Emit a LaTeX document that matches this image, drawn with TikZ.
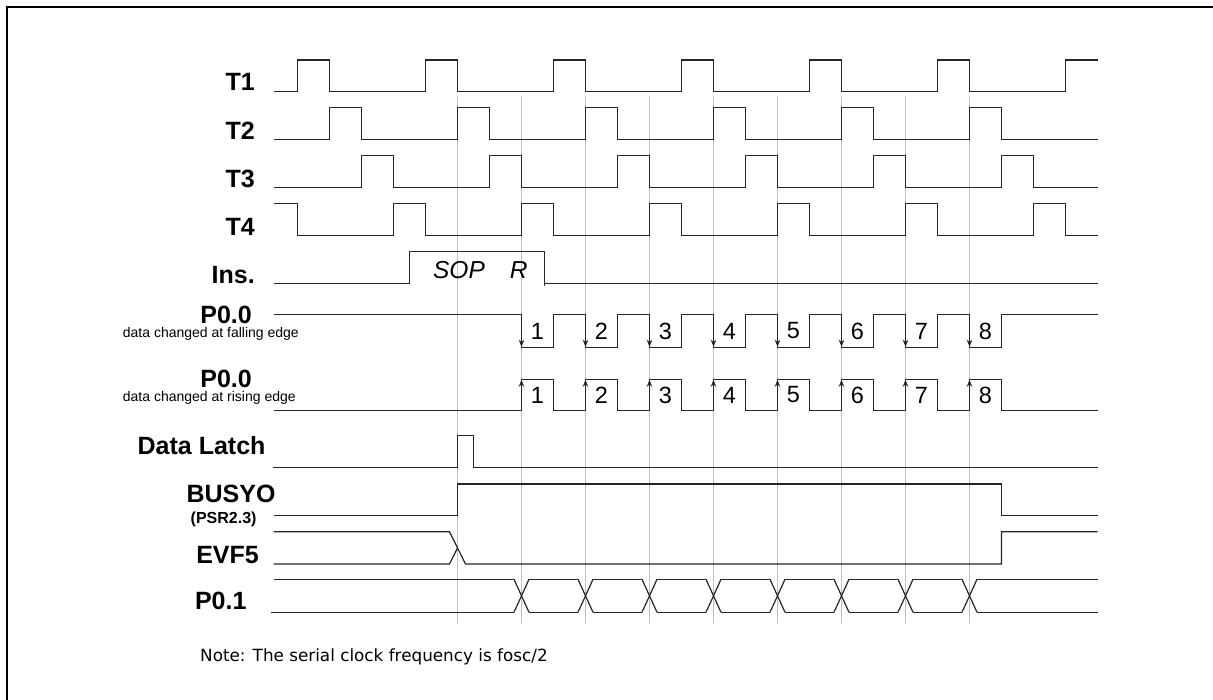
\documentclass[tikz,border=0pt]{standalone}
\usepackage{fontspec}
\setmainfont{Liberation Sans}
\newfontfamily\notefont{DejaVu Sans}
\usetikzlibrary{arrows.meta}
\begin{document}
\begin{tikzpicture}[x=1pt,y=-1pt,
  sig/.style={line width=1.2pt, draw=black!85, line join=miter},
  guide/.style={line width=1pt, draw=black!25},
  lbl/.style={font=\fontsize{25}{30}\selectfont\bfseries, anchor=base east, inner sep=0pt},
  sub/.style={font=\fontsize{14}{16}\selectfont, anchor=base west, inner sep=0pt},
  dig/.style={font=\fontsize{23.5}{27}\selectfont, inner sep=0pt},
  arr/.style={line width=1.2pt, draw=black!85, -{Stealth[length=7pt,width=5.5pt]}}]
\useasboundingbox (0,0) rectangle (1213,700);
% frame
\draw[line width=2.2pt] (7,700) -- (7,7) -- (1213,7);
% guide lines
\foreach \n in {5,7,...,21} \draw[guide] ({297.5+32*\n},96) -- ({297.5+32*\n},624);
% T1
\draw[sig] (273.5,91.7) foreach \m in {0,...,5} { -- ({297.5+128*\m},91.7) -- ({297.5+128*\m},60) -- ({329.5+128*\m},60) -- ({329.5+128*\m},91.7) } -- (1065.5,91.7) -- (1065.5,60) -- (1097.5,60);
% T2
\draw[sig] (273.5,139.3) foreach \m in {0,...,5} { -- ({329.5+128*\m},139.3) -- ({329.5+128*\m},107.7) -- ({361.5+128*\m},107.7) -- ({361.5+128*\m},139.3) } -- (1097.5,139.3);
% T3
\draw[sig] (273.5,187.3) foreach \m in {0,...,5} { -- ({361.5+128*\m},187.3) -- ({361.5+128*\m},155.7) -- ({393.5+128*\m},155.7) -- ({393.5+128*\m},187.3) } -- (1097.5,187.3);
% T4
\draw[sig] (273.5,203.7) -- (297.5,203.7) -- (297.5,235.7) foreach \m in {0,...,5} { -- ({393.5+128*\m},235.7) -- ({393.5+128*\m},203.7) -- ({425.5+128*\m},203.7) -- ({425.5+128*\m},235.7) } -- (1097.5,235.7);
% Ins
\draw[sig] (273.5,283.7) -- (409.5,283.7) -- (409.5,251.7) -- (544.5,251.7) -- (544.5,285.7);
\draw[sig] (544.5,283.7) -- (1097.5,283.7);
\node[font=\fontsize{24.5}{28}\selectfont\itshape, anchor=base, inner sep=0pt] (sop) at (459,278.3) {SOP};
\node[font=\fontsize{24.5}{28}\selectfont\itshape, anchor=base, inner sep=0pt] (r) at (518.8,278.3) {R};
% P0.0 falling
\draw[sig] (274,314.3) foreach \k in {0,...,7} { -- ({521.5+64*\k},314.3) -- ({521.5+64*\k},347.3) -- ({553.5+64*\k},347.3) -- ({553.5+64*\k},314.3) } -- (1097.5,314.3);
\foreach \k [count=\i] in {0,...,7} {
  \draw[arr] ({521.5+64*\k},330) -- ({521.5+64*\k},346.8);
  \node[dig] (fa\i) at ({537.5+64*\k},331) {\i};
}
% P0.0 rising
\draw[sig] (274,410.7) foreach \k in {0,...,7} { -- ({521.5+64*\k},410.7) -- ({521.5+64*\k},379.3) -- ({553.5+64*\k},379.3) -- ({553.5+64*\k},410.7) } -- (1097.5,410.7);
\foreach \k [count=\i] in {0,...,7} {
  \draw[arr] ({521.5+64*\k},396) -- ({521.5+64*\k},379.8);
  \node[dig] (ri\i) at ({537.5+64*\k},395) {\i};
}
% Data latch
\draw[sig] (272.7,467.7) -- (457.5,467.7) -- (457.5,435.7) -- (473.5,435.7) -- (473.5,467.7) -- (1097.5,467.7);
% BUSYO
\draw[sig] (273.5,515.7) -- (457.5,515.7) -- (457.5,484) -- (1001.5,484) -- (1001.5,515.7) -- (1097.5,515.7);
% EVF5
\draw[sig] (273.5,531.7) -- (449.5,531.7) -- (465.5,564) -- (1001.5,564) -- (1001.5,531.7) -- (1097.5,531.7);
\draw[sig] (273.5,564) -- (449.5,564) -- (457.5,547.9);
% P0.1
\draw[sig] (273.5,579.3) -- (514,579.3);
\draw[sig] (271,612.3) -- (514,612.3);
\foreach \k in {0,...,7} {
  \draw[sig] ({514+64*\k},579.3) -- ({529+64*\k},612.3);
  \draw[sig] ({514+64*\k},612.3) -- ({529+64*\k},579.3);
}
\foreach \k in {0,...,6} {
  \draw[sig] ({529+64*\k},579.3) -- ({578+64*\k},579.3);
  \draw[sig] ({529+64*\k},612.3) -- ({578+64*\k},612.3);
}
\draw[sig] (977,579.3) -- (1097.5,579.3);
\draw[sig] (977,612.3) -- (1097.5,612.3);
% labels
\node[lbl] (lt1) at (255,91) {T1};
\node[lbl] (lt2) at (255,139.3) {T2};
\node[lbl] (lt3) at (255,187.3) {T3};
\node[lbl] (lt4) at (255,235.7) {T4};
\node[lbl] (lins) at (255,283.3) {Ins.};
\node[lbl] (lp1) at (252,323.3) {P0.0};
\node[sub] (lp1s) at (122.7,338) {data changed at falling edge};
\node[lbl] (lp2) at (252,387.3) {P0.0};
\node[sub] (lp2s) at (122.7,401.7) {data changed at rising edge};
\node[lbl] (ldl) at (265.7,454.3) {Data Latch};
\node[lbl] (lbusy) at (275.7,502.3) {BUSYO};
\node[lbl, font=\fontsize{16}{18}\selectfont\bfseries] (lpsr) at (256.7,523.3) {(PSR2.3)};
\node[lbl] (levf) at (259,563.3) {EVF5};
\node[lbl] (lp01) at (246.7,609) {P0.1};
\node[anchor=base west, font=\notefont\fontsize{16.8}{20}\selectfont, inner sep=0pt] (note) at (200,661.7) {Note: The serial clock frequency is fosc/2};
\end{tikzpicture}
\end{document}
